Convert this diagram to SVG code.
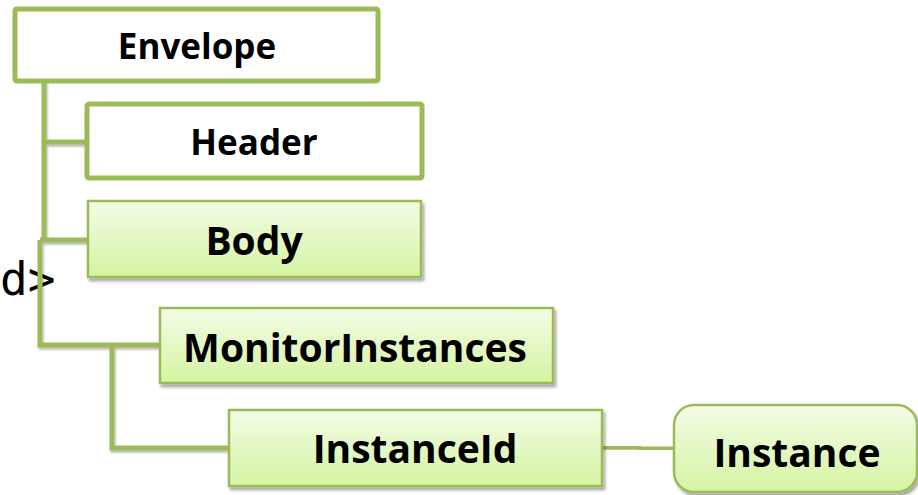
<svg xmlns="http://www.w3.org/2000/svg" width="918" height="495" viewBox="0 0 918 495">
  <defs>
    <linearGradient id="lime" x1="0" y1="0" x2="0" y2="1">
      <stop offset="0" stop-color="#f3fce6"/>
      <stop offset="1" stop-color="#d5f4a2"/>
    </linearGradient>
    <filter id="shadow" x="-10%" y="-10%" width="120%" height="130%">
      <feDropShadow dx="2" dy="3" stdDeviation="1.8" flood-color="#000" flood-opacity="0.35"/>
    </filter>
    <filter id="lineShadow" x="-10%" y="-10%" width="120%" height="120%">
      <feDropShadow dx="1" dy="2" stdDeviation="1" flood-color="#000" flood-opacity="0.3"/>
    </filter>
  </defs>
  <style>
    .plain { fill: #ffffff; stroke: #9bbb59; stroke-width: 5; }
    .soft { fill: url(#lime); stroke: #9bbb59; stroke-width: 2.5; filter: url(#shadow); }
    .link { fill: none; stroke: #9bbb59; stroke-width: 5; filter: url(#lineShadow); }
    .lbl { font-family: "Open Sans", "Liberation Sans", sans-serif; font-weight: bold; fill: #000; text-anchor: middle; }
    .sm { font-size: 35px; }
    .lg { font-size: 39px; }
    .code { font-family: "DejaVu Sans Mono", "Liberation Mono", monospace; font-size: 46px; fill: #000; }
  </style>

  <rect width="918" height="495" fill="#ffffff"/>

  <text class="code" x="0" y="295">d&gt;</text>

  <g id="connectors">
    <path class="link" d="M44,81 V240 M44,142 H87 M40,240 H88 M40,240 V345 H160 M112,345 V448 H229"/>
    <path class="link" d="M602,447 H638 L641,449 H674"/>
  </g>

  <g id="envelope">
    <rect class="plain" x="15" y="9" width="363" height="72" rx="2"/>
    <text class="lbl sm" x="197" y="59">Envelope</text>
  </g>

  <g id="header">
    <rect class="plain" x="87" y="104" width="335" height="74" rx="2"/>
    <text class="lbl sm" x="254" y="155">Header</text>
  </g>

  <g id="body">
    <rect class="soft" x="88" y="201" width="333" height="76"/>
    <text class="lbl lg" x="254" y="255">Body</text>
  </g>

  <g id="monitorInstances">
    <rect class="soft" x="160" y="308" width="393" height="75"/>
    <text class="lbl lg" x="355" y="362">MonitorInstances</text>
  </g>

  <g id="instanceId">
    <rect class="soft" x="229" y="410" width="373" height="76"/>
    <text class="lbl lg" x="415" y="463">InstanceId</text>
  </g>

  <g id="instance">
    <rect class="soft" x="674" y="405" width="243" height="87" rx="20"/>
    <text class="lbl lg" x="797" y="467">Instance</text>
  </g>
</svg>
